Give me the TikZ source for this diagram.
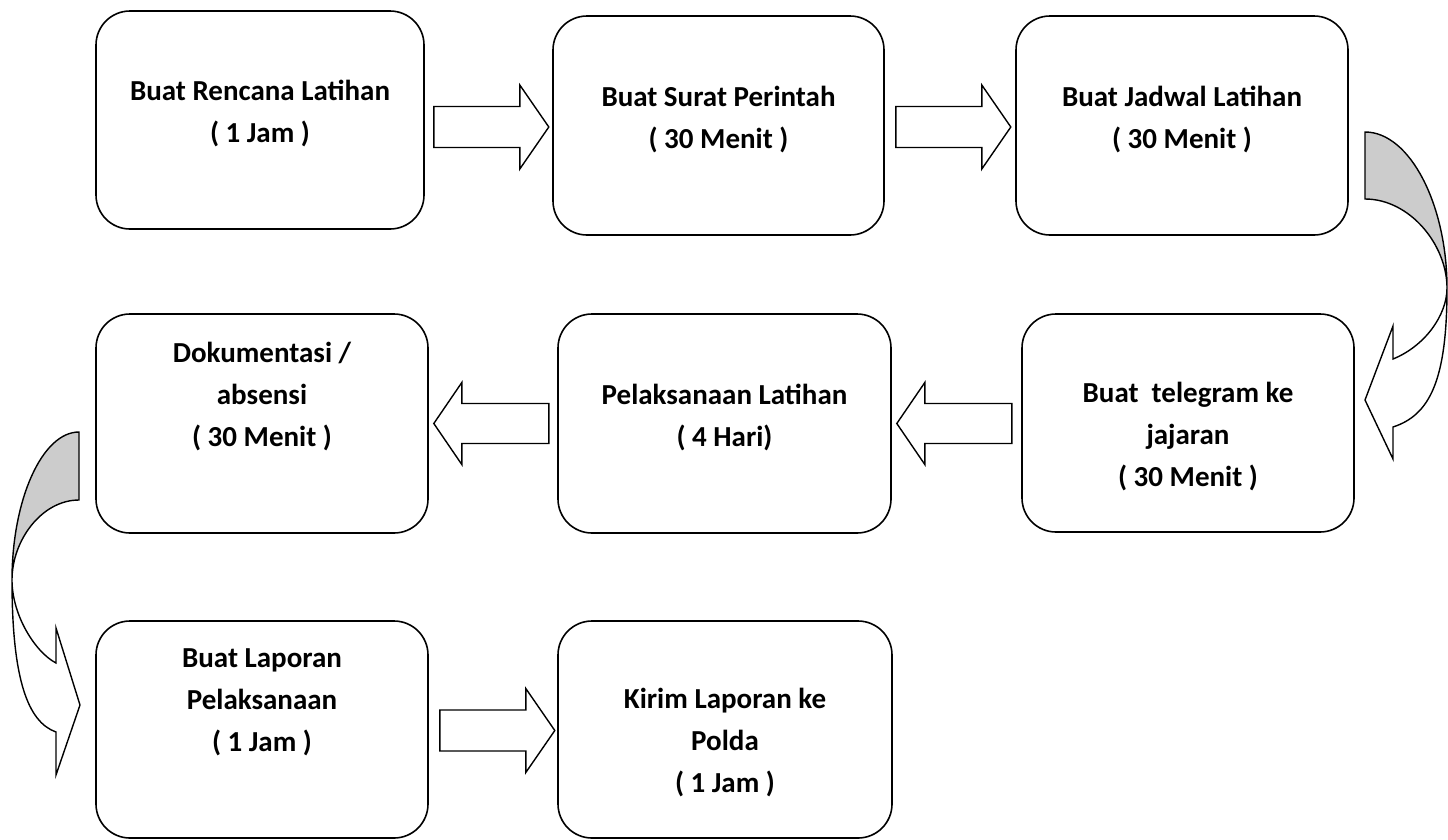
\documentclass[tikz,border=0pt]{standalone}
\usepackage{fontspec}
\setmainfont{Carlito}
\usepackage{tikz}
\usetikzlibrary{positioning,calc}

\tikzset{
  box/.style={draw, line width=1.6pt, rounded corners=34pt, inner sep=0pt},
  lbl/.style={align=center, anchor=base, inner sep=0pt, font=\bfseries\fontsize{29}{42}\selectfont},
  blk/.style={draw, fill=white, line width=1.4pt, line join=miter},
  rarrow/.pic={\draw[blk] (0,-20.5) -- (86,-20.5) -- (86,-42) -- (115,0) -- (86,42) -- (86,20.5) -- (0,20.5) -- cycle;},
  larrow/.pic={\draw[blk] (0,0) -- (28,-41) -- (28,-20) -- (115,-20) -- (115,20) -- (28,20) -- (28,41) -- cycle;}
}

\begin{document}
\begin{tikzpicture}[x=1pt,y=-1pt]
\useasboundingbox (0,0) rectangle (1448,839);

% boxes
\node[box, minimum width=328pt, minimum height=218pt] (b1) at (260,120) {};
\node[box, minimum width=331pt, minimum height=219pt] (b2) at (718.5,125.5) {};
\node[box, minimum width=332pt, minimum height=219pt] (b3) at (1182,125.5) {};
\node[box, minimum width=332pt, minimum height=219pt] (b4) at (262,423.5) {};
\node[box, minimum width=333pt, minimum height=219pt] (b5) at (724.5,423.5) {};
\node[box, minimum width=332pt, minimum height=218pt] (b6) at (1188,423) {};
\node[box, minimum width=332pt, minimum height=217pt] (b7) at (262,729.5) {};
\node[box, minimum width=334pt, minimum height=217pt] (b8) at (725,729.5) {};

% texts (base = last line)
\node[lbl] (t1) at ([yshift=-132pt]b1.north) {Buat Rencana Latihan\\( 1 Jam )};
\node[lbl] (t2) at ([yshift=-133pt]b2.north) {Buat Surat Perintah\\( 30 Menit )};
\node[lbl] (t3) at ([yshift=-133pt]b3.north) {Buat Jadwal Latihan\\( 30 Menit )};
\node[lbl] (t4) at ([yshift=-133pt]b4.north) {Dokumentasi /\\absensi\\( 30 Menit )};
\node[lbl] (t5) at ([yshift=-133pt]b5.north) {Pelaksanaan Latihan\\( 4 Hari)};
\node[lbl] (t6) at ([yshift=-173pt]b6.north) {Buat\ \ telegram ke\\jajaran\\( 30 Menit )};
\node[lbl] (t7) at ([yshift=-131pt]b7.north) {Buat Laporan\\Pelaksanaan\\( 1 Jam )};
\node[lbl] (t8) at ([yshift=-172pt]b8.north) {Kirim Laporan ke\\Polda\\( 1 Jam )};

% straight arrows
\pic at ($(b1.east)+(9,7)$) {rarrow};
\pic at ($(b2.east)+(11,1.5)$) {rarrow};
\pic at ($(b5.east)+(5,0)$) {larrow};
\pic at ($(b4.east)+(5,0)$) {larrow};
\pic at ($(b7.east)+(11,1)$) {rarrow};

% curved arrow b3 -> b6
\draw[blk] (1447,288) .. controls (1447,315) and (1425,346) .. (1393,359) -- (1393,326) -- (1365,400)
  -- (1393,459) -- (1393,427) .. controls (1430,415) and (1447,380) .. (1447,288) -- cycle;
\draw[blk, fill=black!20] (1365,132) .. controls (1410,132) and (1447,205) .. (1447,288)
  .. controls (1447,245) and (1410,199) .. (1365,199) -- cycle;

% curved arrow b4 -> b7
\draw[blk] (12,580) .. controls (12,615) and (35,652) .. (56,663) -- (56,628) -- (80,705)
  -- (56,775) -- (56,732) .. controls (28,722) and (12,680) .. (12,580) -- cycle;
\draw[blk, fill=black!20] (79,432) .. controls (42,432) and (12,500) .. (12,580)
  .. controls (12,540) and (42,500) .. (79,500) -- cycle;
\end{tikzpicture}
\end{document}
